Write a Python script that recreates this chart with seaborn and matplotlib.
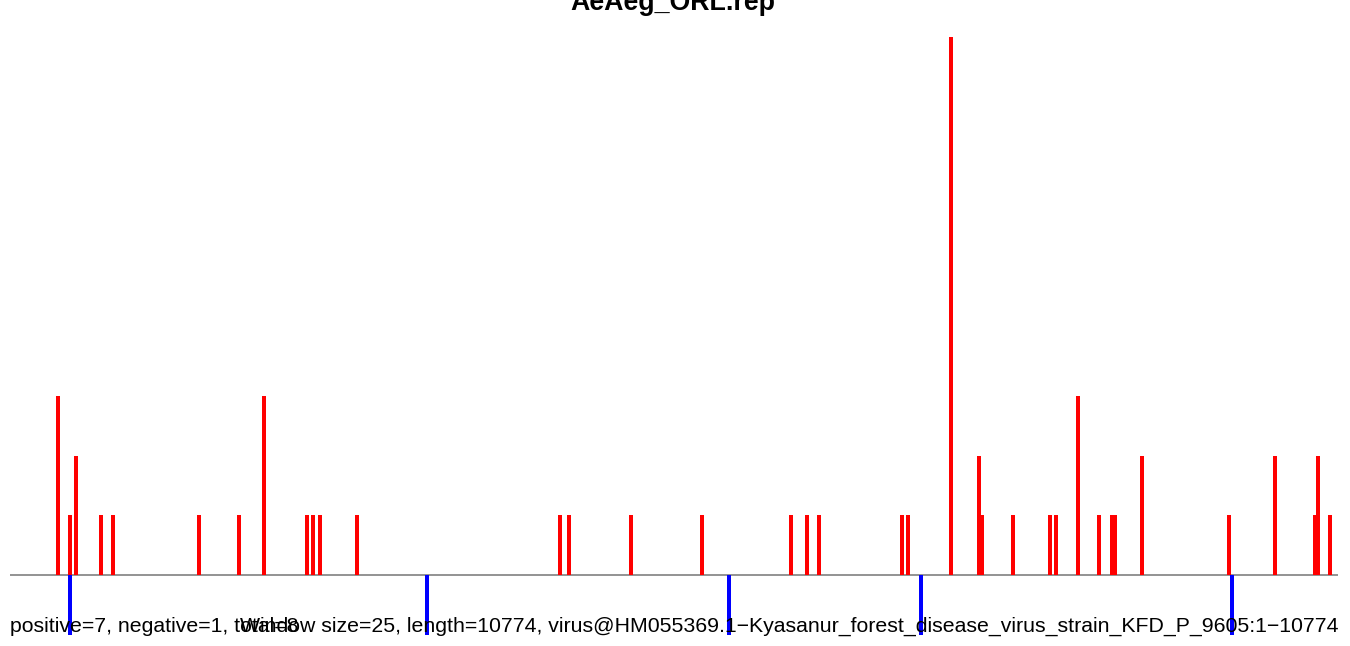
import pandas as pd
import matplotlib
matplotlib.use("Agg")
import matplotlib.pyplot as plt
import seaborn as sns

# window start positions (nt) and counts
pos_positions = [387, 484, 533, 738, 833, 1533, 1855, 2058, 2407, 2456, 2515,
                 2813, 4462, 4533, 5036, 5614, 6334, 6464, 6561, 7234, 7283,
                 7634, 7861, 7886, 8135, 8438, 8484, 8665, 8835, 8941, 8965,
                 9184, 9890, 10261, 10587, 10612, 10709]
pos_counts = [3, 1, 2, 1, 1, 1, 1, 3, 1, 1, 1,
              1, 1, 1, 1, 1, 1, 1, 1, 1, 1,
              9, 2, 1, 1, 1, 1, 3, 1, 1, 1,
              2, 1, 2, 1, 2, 1]
neg_positions = [484, 3381, 5831, 7389, 9912]
neg_counts = [-1, -1, -1, -1, -1]

seq_length = 10774
window_size = 25
title = "AeAeg_ORL.rep"
left_label = "positive=7, negative=1, total=8"
right_label = ("Window size=25, length=10774, "
               "virus@HM055369.1\u2212Kyasanur_forest_disease_virus_strain_KFD_P_9605:1\u221210774")

df = pd.DataFrame({
    "position": pos_positions + neg_positions,
    "count": pos_counts + neg_counts,
    "strand": ["plus"] * len(pos_positions) + ["minus"] * len(neg_positions),
})

sns.set_style("white")
plt.rcParams["font.family"] = ["Liberation Sans", "DejaVu Sans"]

fig = plt.figure(figsize=(13.5, 6.46), dpi=100)
ax = fig.add_axes([10 / 1350, 11 / 646, 1328 / 1350, 598 / 646])

sns.barplot(data=df, x="position", y="count", hue="strand",
            palette={"plus": "#ff0000", "minus": "#0000ff"},
            saturation=1, native_scale=True, dodge=False, width=1.5,
            linewidth=0, legend=False, ax=ax)

ax.axhline(0, color="#808080", linewidth=1.2, zorder=0)
ax.set_xlim(0, seq_length)
ax.set_ylim(-1, 9)
ax.set_axis_off()

fig.text(673 / 1350, 1 - 10 / 646, title, ha="center", va="baseline",
         fontsize=19.3, fontweight="bold", color="black")
fig.text(10 / 1350, 1 - 632 / 646, left_label, ha="left", va="baseline",
         fontsize=15.3, color="black")
fig.text(1338 / 1350, 1 - 632 / 646, right_label, ha="right", va="baseline",
         fontsize=15.3, color="black")

fig.savefig("out.png", dpi=100)
